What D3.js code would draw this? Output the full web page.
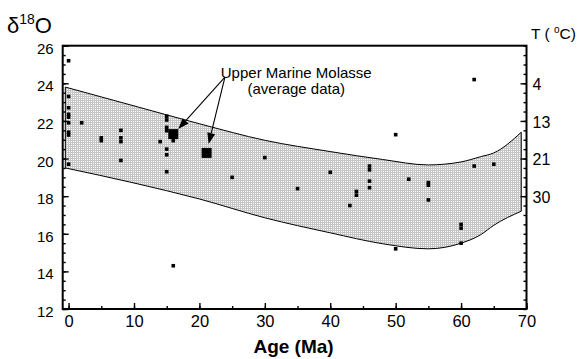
<!DOCTYPE html>
<html><head><meta charset="utf-8">
<script src="https://cdn.jsdelivr.net/npm/d3@7"></script>
<style>
body{margin:0;background:#fff}
svg{display:block}
text{font-family:"Liberation Sans",Arial,Helvetica,sans-serif;fill:#000}
</style>
</head><body>
<svg id="chart" width="580" height="359"></svg>
<script>
// ---- data ----
const bandAge   = [-0.5, 10, 20, 30, 40, 48, 55, 60, 63, 65, 69.2];
const bandUpper = [23.8, 22.8, 21.85, 20.97, 20.37, 19.95, 19.66, 19.82, 20.1, 20.3, 21.4];
const bandLower = [19.5, 18.7, 17.85, 16.85, 16.05, 15.47, 15.2, 15.5, 15.95, 16.45, 17.2];

const pointAge  = [0,0,0,0,0,0,0,0,0, 2, 5,5, 8,8,8,8, 14, 15,15,15,15,15,15,15, 16,16, 25, 30, 35, 40, 43, 44,44, 46,46,46,46, 50,50, 52, 55,55,55, 60,60,60, 62,62, 65];
const pointD18O = [25.2,23.3,22.7,22.35,22.2,21.9,21.4,21.25,19.7, 21.9, 21.1,20.95, 21.5,21.1,20.9,19.9, 20.9, 22.25,22.05,21.66,21.48,20.5,20.2,19.3, 20.95,14.3, 19.0, 20.05, 18.4, 19.27, 17.5, 18.25,18.05, 19.6,19.4,18.8,18.45, 21.27,15.2, 18.9, 18.72,18.58,17.8, 16.5,16.3,15.5, 24.2,19.6, 19.7];

const avgAge  = [16, 21.1];
const avgD18O = [21.3, 20.3];

const yTickValues = [12, 14, 16, 18, 20, 22, 24, 26];
const xTickValues = [0, 10, 20, 30, 40, 50, 60, 70];
const tempLabels  = ["4", "13", "21", "30"];
const tempAtD18O  = [24, 22, 20, 18];

// ---- layout ----
const svg = d3.select("#chart");
const L = 62.7, R = 526.5, T = 45.7, B = 309;
const x = d3.scaleLinear().domain([-0.9, 70]).range([L, R]);
const y = d3.scaleLinear().domain([12, 26]).range([B, T]);

// pattern for stippled band
const defs = svg.append("defs");
const pat = defs.append("pattern").attr("id","stip").attr("width",2).attr("height",2)
  .attr("patternUnits","userSpaceOnUse");
pat.append("rect").attr("width",2).attr("height",2).attr("fill","#ffffff");
pat.append("rect").attr("x",0).attr("y",0).attr("width",2).attr("height",1).attr("fill","#c4c4c4");
pat.append("rect").attr("x",0).attr("y",0).attr("width",1).attr("height",2).attr("fill","#c4c4c4");

// band
const bandData = bandAge.map((a,i)=>({a, u:bandUpper[i], l:bandLower[i]}));
const area = d3.area().x(d=>x(d.a)).y0(d=>y(d.l)).y1(d=>y(d.u)).curve(d3.curveMonotoneX);
svg.append("path").datum(bandData).attr("d", area)
  .attr("fill","url(#stip)").attr("stroke","#000").attr("stroke-width",1);

// points
const pts = pointAge.map((a,i)=>({a, v:pointD18O[i]}));
const ps = 3.6;
svg.append("g").selectAll("rect").data(pts).join("rect")
  .attr("x", d=>x(d.a)-ps/2).attr("y", d=>y(d.v)-ps/2)
  .attr("width", ps).attr("height", ps).attr("fill","#000");

const avg = avgAge.map((a,i)=>({a, v:avgD18O[i]}));
const bs = 10;
svg.append("g").selectAll("rect").data(avg).join("rect")
  .attr("x", d=>x(d.a)-bs/2).attr("y", d=>y(d.v)-bs/2)
  .attr("width", bs).attr("height", bs).attr("fill","#000");

// axes
function styleAxis(g){
  g.select(".domain").remove();
  g.selectAll(".tick line").attr("stroke","#000").attr("stroke-width",1.4);
  g.selectAll("text").attr("font-family",'"Liberation Sans",Arial,sans-serif').attr("fill","#000");
}
// left
svg.append("g").attr("transform",`translate(${L},0)`)
  .call(d3.axisLeft(y).tickValues(d3.range(12,26.01,0.5)).tickSize(-3).tickFormat(""))
  .call(styleAxis);
svg.append("g").attr("transform",`translate(${L},0)`)
  .call(d3.axisLeft(y).tickValues(yTickValues).tickSize(-6).tickPadding(9).tickFormat(d3.format("d")))
  .call(styleAxis)
  .call(g=>g.selectAll("text").attr("font-size",15).attr("dy","0.5em"));
// bottom
svg.append("g").attr("transform",`translate(0,${B})`)
  .call(d3.axisBottom(x).tickValues(d3.range(0,70.1,5)).tickSize(-3).tickFormat(""))
  .call(styleAxis);
svg.append("g").attr("transform",`translate(0,${B})`)
  .call(d3.axisBottom(x).tickValues(xTickValues).tickSize(-6).tickPadding(6).tickFormat(d3.format("d")))
  .call(styleAxis)
  .call(g=>g.selectAll("text").attr("font-size",16.5));
// right
svg.append("g").attr("transform",`translate(${R},0)`)
  .call(d3.axisRight(y).tickValues(d3.range(12,26.01,0.5)).tickSize(-3).tickFormat(""))
  .call(styleAxis);
svg.append("g").attr("transform",`translate(${R},0)`)
  .call(d3.axisRight(y).tickValues(tempAtD18O).tickSize(-6).tickPadding(6).tickFormat((d,i)=>tempLabels[i]))
  .call(styleAxis)
  .call(g=>g.selectAll("text").attr("font-size",16).attr("dy","0.38em"));

// frame
svg.append("rect").attr("x",L).attr("y",T).attr("width",R-L).attr("height",B-T)
  .attr("fill","none").attr("stroke","#000").attr("stroke-width",2);

// titles
const t1 = svg.append("text").attr("x",7).attr("y",33).attr("font-size",22);
t1.append("tspan").text("δ");
t1.append("tspan").attr("font-size",14).attr("dy",-9).text("18");
t1.append("tspan").attr("dy",9).text("O");

const t2 = svg.append("text").attr("x",531).attr("y",38.5).attr("font-size",15.5);
t2.append("tspan").text("T ( ");
t2.append("tspan").attr("font-size",10).attr("dy",-6).text("o");
t2.append("tspan").attr("dy",6).text("C)");

svg.append("text").attr("x",(x(0)+R)/2 - 4).attr("y",353).attr("text-anchor","middle")
  .attr("font-size",19).attr("font-weight","bold").text("Age (Ma)");

// annotation
const annX = x(34.8);
svg.append("text").attr("x",annX).attr("y",y(24.26)).attr("text-anchor","middle")
  .attr("font-size",15).text("Upper Marine Molasse");
svg.append("text").attr("x",annX).attr("y",y(23.43)).attr("text-anchor","middle")
  .attr("font-size",15).text("(average data)");

const start = [x(23.9), y(24.33)];
const tips = [[x(avgAge[0])+5, y(avgD18O[0])-5], [x(avgAge[1])+2, y(avgD18O[1])-9]];
const ag = svg.append("g");
tips.forEach(tp=>{
  const dx = tp[0]-start[0], dy = tp[1]-start[1];
  const len = Math.hypot(dx,dy), ux = dx/len, uy = dy/len;
  const hl = 11, hw = 4;
  const bx = tp[0]-ux*hl, by = tp[1]-uy*hl;
  ag.append("line").attr("x1",start[0]).attr("y1",start[1]).attr("x2",bx).attr("y2",by)
    .attr("stroke","#000").attr("stroke-width",1.1);
  ag.append("path").attr("d",`M${tp[0]},${tp[1]}L${bx-uy*hw},${by+ux*hw}L${bx+uy*hw},${by-ux*hw}Z`)
    .attr("fill","#000");
});
</script>
</body></html>
